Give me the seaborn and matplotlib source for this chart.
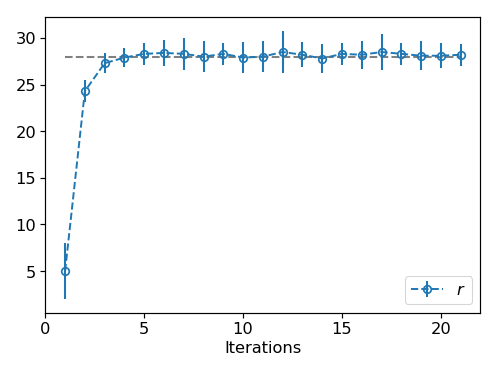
import numpy as np
import pandas as pd
import matplotlib
matplotlib.use("Agg")
import matplotlib.pyplot as plt
import seaborn as sns

# valores
iterations = list(range(1, 22))
r_mean = [5.0, 24.3, 27.3, 27.9, 28.3, 28.4, 28.3, 28.0, 28.3, 27.9, 28.0,
          28.5, 28.2, 27.8, 28.3, 28.2, 28.5, 28.3, 28.1, 28.1, 28.2]
r_err = [3.0, 1.15, 1.1, 1.05, 1.15, 1.4, 1.7, 1.65, 1.2, 1.65, 1.7,
         2.3, 1.35, 1.6, 1.2, 1.5, 1.9, 1.15, 1.55, 1.35, 1.2]
r_ref = 28.0


def main():
    sns.set_style("white")
    plt.rcParams["font.family"] = ["DejaVu Sans"]
    plt.rcParams["axes.edgecolor"] = "black"
    plt.rcParams["axes.labelcolor"] = "black"
    plt.rcParams["text.color"] = "black"
    plt.rcParams["xtick.color"] = "black"
    plt.rcParams["ytick.color"] = "black"
    plt.rcParams["xtick.bottom"] = True
    plt.rcParams["ytick.left"] = True

    fig = plt.figure(figsize=(6.4, 4.8), dpi=77.8)
    ax = fig.add_axes([0.091, 0.162, 0.874, 0.790])

    # linha de referência
    ref = pd.DataFrame({"x": [iterations[0], iterations[-1]], "y": [r_ref, r_ref]})
    sns.lineplot(data=ref, x="x", y="y", ax=ax, color="gray", linestyle="--",
                 linewidth=1.9, legend=False, zorder=1)

    ax.errorbar(iterations, r_mean, yerr=r_err, fmt="o--", color="#1f77b4",
                mfc="none", markersize=7, linewidth=1.8, elinewidth=1.9,
                mew=1.6, label="$r$", zorder=2)

    ax.set_xlim(0, 22)
    ax.set_ylim(0.56, 32.2)
    ax.set_xticks([0, 5, 10, 15, 20])
    ax.set_yticks([5, 10, 15, 20, 25, 30])
    ax.tick_params(labelsize=15, direction="out", length=5, width=1.1, color="black")
    ax.set_xlabel("Iterations", fontsize=15, labelpad=4)
    ax.set_ylabel("")
    for s in ax.spines.values():
        s.set_visible(True)
        s.set_linewidth(1.1)
        s.set_color("black")
    ax.legend(loc="lower right", fontsize=15)

    fig.savefig("out.png", dpi=77.8)


if __name__ == "__main__":
    main()
